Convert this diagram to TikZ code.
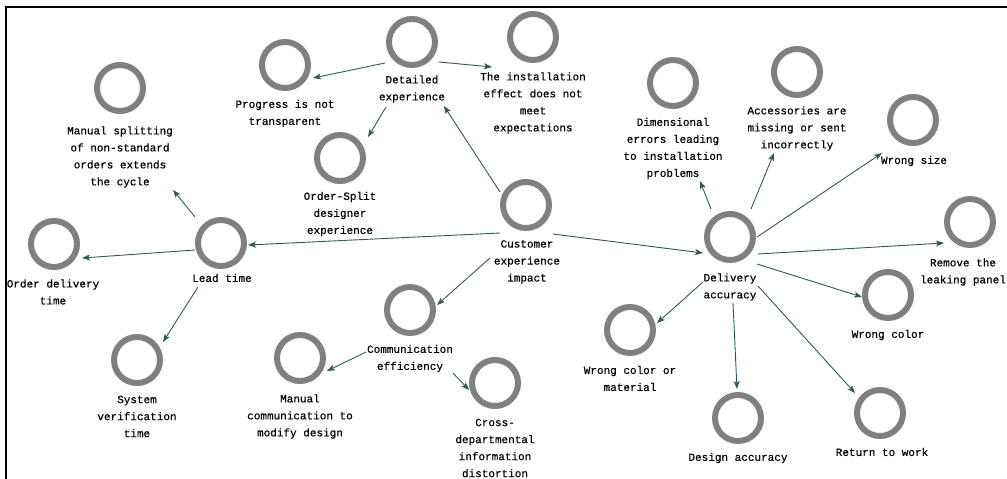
\documentclass[tikz,border=0pt]{standalone}
\usepackage{fontspec}
\setmainfont{Liberation Mono}[FakeBold=0.5]
\usetikzlibrary{arrows.meta,calc}
\definecolor{ringgray}{RGB}{128,128,128}
\definecolor{linkteal}{RGB}{45,90,90}
\begin{document}
\begin{tikzpicture}[x=1pt,y=-1pt,
  ring/.style={circle, draw=ringgray, line width=6pt, minimum size=46pt, inner sep=0pt},
  lbl/.style={align=center, font=\fontsize{11}{17}\selectfont, inner sep=0pt},
  link/.style={draw=linkteal, line width=0.9pt, -{Stealth[length=8pt,width=6pt,inset=2pt]}}]
\useasboundingbox (0,0) rectangle (1007,479);
% frame edges
\draw[line width=2.2pt] (6,479) -- (6,7) -- (1007,7);

% concept rings
\node[ring] (cust) at (526,205) {};
\node[ring] (det)  at (412,42) {};
\node[ring] (inst) at (533,37) {};
\node[ring] (prog) at (285,65) {};
\node[ring] (osd)  at (340,158) {};
\node[ring] (lead) at (221,243) {};
\node[ring] (odt)  at (54,244) {};
\node[ring] (msp)  at (120,88) {};
\node[ring] (svt)  at (137,360) {};
\node[ring] (comm) at (410,310) {};
\node[ring] (mcm)  at (300,358) {};
\node[ring] (cdi)  at (495,383) {};
\node[ring] (dacc) at (730,237) {};
\node[ring] (dim)  at (673,83) {};
\node[ring] (acc)  at (797,72) {};
\node[ring] (wsz)  at (913,120) {};
\node[ring] (rlp)  at (970,222) {};
\node[ring] (wcl)  at (888,295) {};
\node[ring] (wcm)  at (630,330) {};
\node[ring] (dsa)  at (738,418) {};
\node[ring] (rtw)  at (880,413) {};

% captions
\node[lbl] (custL) at (527,262) {Customer\\experience\\impact};
\node[lbl] (detL)  at (412,89) {Detailed\\experience};
\node[lbl] (instL) at (533,103) {The installation\\effect does not\\meet\\expectations};
\node[lbl] (progL) at (285,113.5) {Progress is not\\transparent};
\node[lbl] (osdL)  at (340,214) {Order-Split\\designer\\experience};
\node[lbl] (leadL) at (222,278) {Lead time};
\node[lbl] (odtL)  at (53,292) {Order delivery\\time};
\node[lbl] (mspL)  at (120,157) {Manual splitting\\of non-standard\\orders extends\\the cycle};
\node[lbl] (svtL)  at (137,416.5) {System\\verification\\time};
\node[lbl] (commL) at (410,358.5) {Communication\\efficiency};
\node[lbl] (mcmL)  at (300,416.5) {Manual\\communication to\\modify design};
\node[lbl] (cdiL)  at (495,448) {Cross-\\departmental\\information\\distortion};
\node[lbl] (daccL) at (730,287) {Delivery\\accuracy};
\node[lbl] (dimL)  at (673,148.5) {Dimensional\\errors leading\\to installation\\problems};
\node[lbl] (accL)  at (797,128.5) {Accessories are\\missing or sent\\incorrectly};
\node[lbl] (wszL)  at (914,161) {Wrong size};
\node[lbl] (rlpL)  at (963,272) {Remove the\\leaking panel};
\node[lbl] (wclL)  at (888,335) {Wrong color};
\node[lbl] (wcmL)  at (630,378.5) {Wrong color or\\material};
\node[lbl] (dsaL)  at (738,458) {Design accuracy};
\node[lbl] (rtwL)  at (882,452) {Return to work};

% links
\draw[link] ($(cust)+(-26,-13)$) -- ($(det)+(32,64)$);
\draw[link] ($(det)+(-27,21)$) -- ($(prog)+(28,13)$);
\draw[link] ($(det)+(27,20)$) -- ($(inst)+(-41,30)$);
\draw[link] ($(det)+(-26,65)$) -- ($(osd)+(28,-21)$);
\draw[link] ($(cust)+(-26,28)$) -- ($(lead)+(27,2)$);
\draw[link] ($(lead)+(-26,7)$) -- ($(odt)+(28,14)$);
\draw[link] ($(lead)+(-26,-26)$) -- ($(msp)+(53,102)$);
\draw[link] ($(lead)+(-23,44)$) -- ($(svt)+(26,-18)$);
\draw[link] ($(cust)+(-36,53)$) -- ($(comm)+(27,-5)$);
\draw[link] ($(comm)+(-44,42)$) -- ($(mcm)+(27,13)$);
\draw[link] ($(comm)+(43,63)$) -- ($(cdi)+(-26,7)$);
\draw[link] ($(cust)+(27,29)$) -- ($(dacc)+(-27,16)$);
\draw[link] ($(dacc)+(-19,-28)$) -- ($(dim)+(27,98)$);
\draw[link] ($(dacc)+(21,-28)$) -- ($(acc)+(-23,81)$);
\draw[link] ($(dacc)+(27,0)$) -- ($(wsz)+(-31,33)$);
\draw[link] ($(dacc)+(28,17)$) -- ($(rlp)+(-26,21)$);
\draw[link] ($(dacc)+(27,27)$) -- ($(wcl)+(-26,2)$);
\draw[link] ($(dacc)+(-27,45)$) -- ($(wcm)+(27,-7)$);
\draw[link] ($(dacc)+(3,66)$) -- ($(dsa)+(-1,-29)$);
\draw[link] ($(dacc)+(28,49)$) -- ($(rtw)+(-25,-20)$);
\end{tikzpicture}
\end{document}
